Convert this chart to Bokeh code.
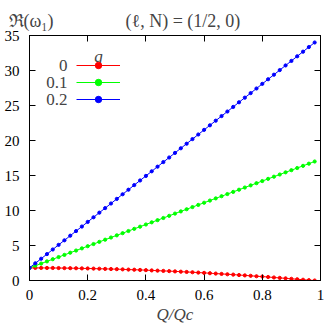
from bokeh.plotting import figure
from bokeh.models import (Range1d, LinearAxis, FixedTicker, Label, Legend, LegendItem)
from bokeh.embed import file_html
from bokeh.resources import INLINE

# ---- data ----
Q = [0.00, 0.02, 0.04, 0.06, 0.08, 0.10, 0.12, 0.14, 0.16, 0.18,
     0.20, 0.22, 0.24, 0.26, 0.28, 0.30, 0.32, 0.34, 0.36, 0.38,
     0.40, 0.42, 0.44, 0.46, 0.48, 0.50, 0.52, 0.54, 0.56, 0.58,
     0.60, 0.62, 0.64, 0.66, 0.68, 0.70, 0.72, 0.74, 0.76, 0.78,
     0.80, 0.82, 0.84, 0.86, 0.88, 0.90, 0.92, 0.94, 0.96, 0.98]

w_q0 = [1.80, 1.80, 1.80, 1.79, 1.79, 1.78, 1.77, 1.76, 1.75, 1.73,
        1.72, 1.70, 1.68, 1.66, 1.64, 1.62, 1.59, 1.56, 1.54, 1.51,
        1.48, 1.44, 1.41, 1.37, 1.34, 1.30, 1.26, 1.22, 1.18, 1.13,
        1.09, 1.04, 0.99, 0.94, 0.89, 0.84, 0.78, 0.73, 0.67, 0.61,
        0.56, 0.50, 0.43, 0.37, 0.31, 0.24, 0.18, 0.11, 0.05, 0.00]

w_q01 = [1.80, 2.11, 2.42, 2.73, 3.04, 3.35, 3.66, 3.97, 4.28, 4.59,
         4.90, 5.21, 5.52, 5.83, 6.14, 6.45, 6.76, 7.07, 7.38, 7.69,
         8.00, 8.31, 8.62, 8.93, 9.24, 9.56, 9.87, 10.18, 10.49, 10.80,
         11.11, 11.42, 11.73, 12.04, 12.35, 12.66, 12.97, 13.28, 13.59, 13.90,
         14.21, 14.52, 14.83, 15.14, 15.45, 15.76, 16.07, 16.38, 16.69, 17.00]

w_q02 = [1.80, 2.46, 3.11, 3.77, 4.43, 5.09, 5.74, 6.40, 7.06, 7.71,
         8.37, 9.03, 9.69, 10.34, 11.00, 11.66, 12.32, 12.97, 13.63, 14.29,
         14.94, 15.60, 16.26, 16.92, 17.57, 18.23, 18.89, 19.54, 20.20, 20.86,
         21.52, 22.17, 22.83, 23.49, 24.14, 24.80, 25.46, 26.12, 26.77, 27.43,
         28.09, 28.75, 29.40, 30.06, 30.72, 31.37, 32.03, 32.69, 33.35, 34.00]

q_labels = ["0", "0.1", "0.2"]
x_ticks = [0, 0.2, 0.4, 0.6, 0.8, 1.0]
x_tick_labels = ["0", "0.2", "0.4", "0.6", "0.8", "1"]
y_ticks = [0, 5, 10, 15, 20, 25, 30, 35]
y_label = "ℜ(ω₁)"
title_text = "(ℓ, N) = (1/2, 0)"

FONT = "Liberation Serif, Times New Roman, serif"

p = figure(width=329, height=331, output_backend="svg", toolbar_location=None,
           x_range=Range1d(0, 1), y_range=Range1d(0, 35),
           min_border_left=29, min_border_right=9, min_border_top=35, min_border_bottom=51,
           x_axis_location=None, y_axis_location=None)
p.grid.visible = False
p.outline_line_color = "black"
p.outline_line_width = 1
p.background_fill_color = "white"
p.border_fill_color = "white"

def mk_axis(ticks, labels=None, show_labels=True):
    ax = LinearAxis(ticker=FixedTicker(ticks=ticks))
    ax.major_tick_in = 6
    ax.major_tick_out = 0
    ax.minor_tick_line_color = None
    ax.axis_line_color = "black"
    ax.major_tick_line_color = "black"
    ax.major_label_text_font = FONT
    ax.major_label_text_font_size = "15px"
    ax.major_label_text_color = "black"
    if labels is not None:
        ax.major_label_overrides = {t: l for t, l in zip(ticks, labels)}
    if not show_labels:
        ax.major_label_text_font_size = "0px"
        ax.major_label_text_color = None
        ax.major_label_standoff = 0
    return ax

xb = mk_axis(x_ticks, x_tick_labels)
xb.major_label_standoff = 9
xb.axis_label = "Q/Qc"
xb.axis_label_text_font = FONT
xb.axis_label_text_font_style = "italic"
xb.axis_label_text_font_size = "17px"
xb.axis_label_standoff = 2
p.add_layout(xb, "below")

yl = mk_axis(y_ticks, [str(v) for v in y_ticks])
yl.major_label_standoff = 10
p.add_layout(yl, "left")

p.add_layout(mk_axis(x_ticks, show_labels=False), "above")
p.add_layout(mk_axis(y_ticks, show_labels=False), "right")

# y-axis label and title share the line above the frame
p.title.text = y_label + "\u2003\u2003\u2003\u2003" + title_text
p.title.align = "left"
p.title.offset = -21
p.title.text_font = FONT
p.title.text_font_style = "normal"
p.title.text_font_size = "18px"
p.title.standoff = 10

series = [(w_q0, "#ff0000"), (w_q01, "#00ff00"), (w_q02, "#0000ff")]
items = []
for vals, col in series:
    l = p.line(Q, vals, line_color=col, line_width=1)
    s = p.scatter(Q, vals, size=3.2, fill_color=col, line_color=col)
    items.append(LegendItem(label=" ", renderers=[l, s]))

leg = Legend(items=items, location=(47, 173), glyph_width=44, glyph_height=16,
             spacing=1, padding=0, margin=0, label_width=0, label_standoff=0,
             label_text_font_size="8px", border_line_color=None,
             background_fill_alpha=0)
p.add_layout(leg)

for lab, yy in zip(q_labels, [215, 198, 181]):
    p.add_layout(Label(x=38, y=yy, x_units="screen", y_units="screen", text=lab,
                       text_font=FONT, text_font_size="17px", text_align="right",
                       text_baseline="middle"))
p.add_layout(Label(x=69, y=224, x_units="screen", y_units="screen", text="q",
                   text_font=FONT, text_font_style="italic", text_font_size="17px",
                   text_align="center", text_baseline="middle"))

open("out.html", "w").write(file_html(p, INLINE))
